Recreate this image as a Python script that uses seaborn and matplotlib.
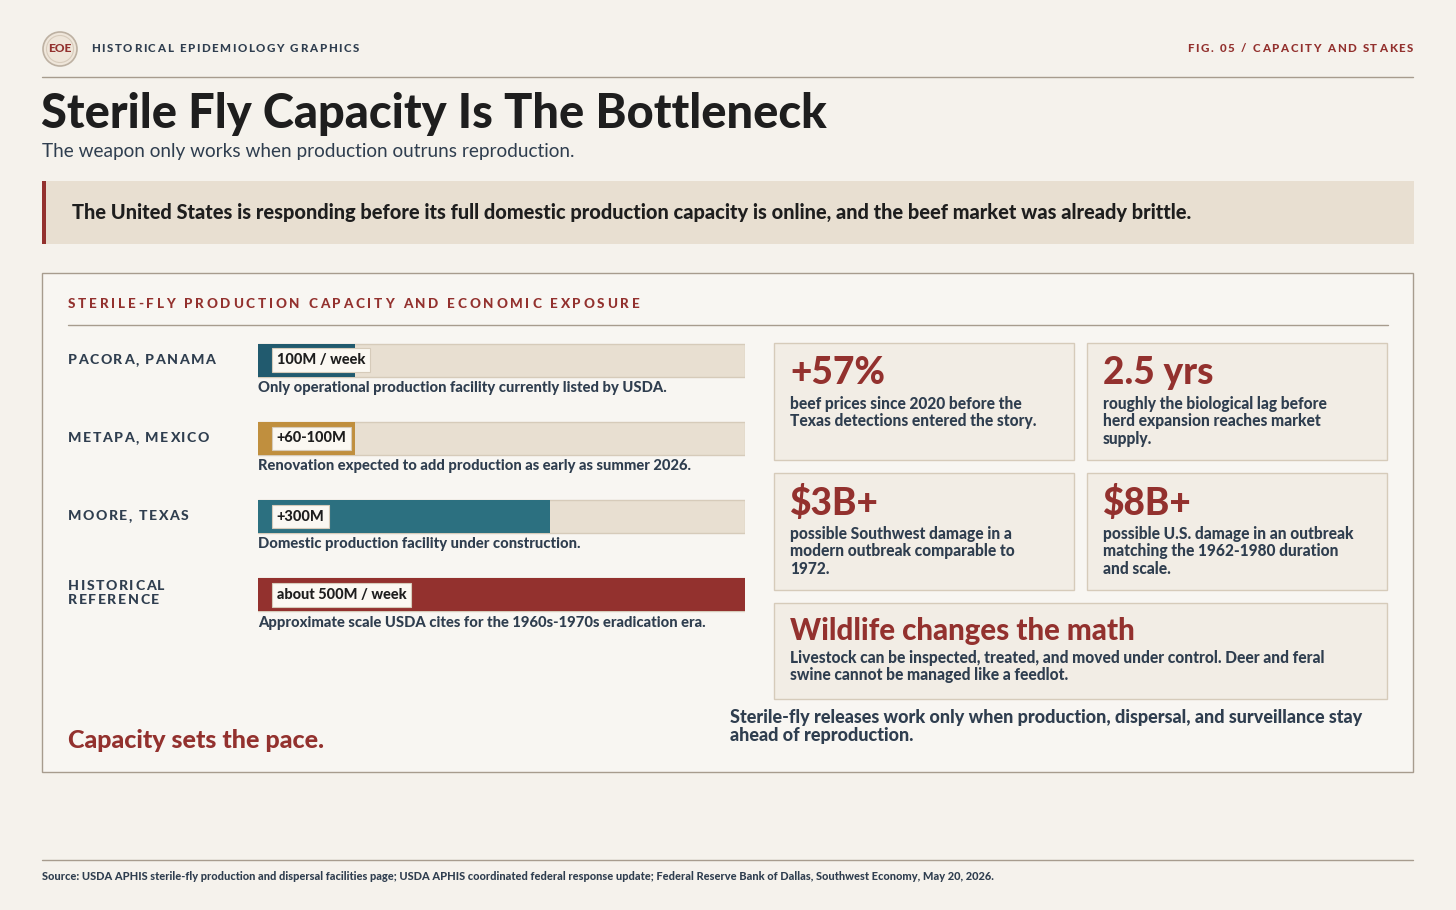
import matplotlib
matplotlib.use("Agg")
import matplotlib.pyplot as plt
from matplotlib.patches import Rectangle, Circle
import seaborn as sns
import pandas as pd

sites = ["PACORA, PANAMA", "METAPA, MEXICO", "MOORE, TEXAS", "HISTORICAL\nREFERENCE"]
capacity = [100, 100, 300, 500]  # million flies / week
badges = ["100M / week", "+60-100M", "+300M", "about 500M / week"]
notes = ["Only operational production facility currently listed by USDA.",
         "Renovation expected to add production as early as summer 2026.",
         "Domestic production facility under construction.",
         "Approximate scale USDA cites for the 1960s-1970s eradication era."]
scale_max = 500
bar_colors = ["#215A6E", "#C08F3E", "#2C7080", "#93312E"]

stat_values = ["+57%", "2.5 yrs", "$3B+", "$8B+"]
stat_texts = ["beef prices since 2020 before the\nTexas detections entered the story.",
              "roughly the biological lag before\nherd expansion reaches market\nsupply.",
              "possible Southwest damage in a\nmodern outbreak comparable to\n1972.",
              "possible U.S. damage in an outbreak\nmatching the 1962-1980 duration\nand scale."]

BG = "#F5F2EC"; NAVY = "#2F3E4F"; RED = "#93312E"; INK = "#1E1E1E"
sns.set_theme(style="white")
plt.rcParams['font.family'] = ['Lato', 'DejaVu Sans']

W, H = 1456, 910
fig = plt.figure(figsize=(W/100, H/100), dpi=100, facecolor=BG)
ax0 = fig.add_axes([0, 0, 1, 1], zorder=0)
ax0.set_xlim(0, W); ax0.set_ylim(H, 0); ax0.axis("off")
renderer = fig.canvas.get_renderer()

def T(x, y, s, size, color=NAVY, weight="black", **kw):
    return ax0.text(x, y, s, fontsize=size*0.72, color=color, fontweight=weight, **kw)

def S(x, y, s, size, spacing, color=NAVY, ha="left"):
    # letter-spaced caps, drawn char by char
    widths = []
    for ch in s:
        t = T(0, 0, ch if ch != " " else "i", size, color, va="center")
        bb = t.get_window_extent(renderer)
        widths.append(bb.width * (0.9 if ch == " " else 1.0))
        t.remove()
    total = sum(widths) + spacing * (len(s) - 1)
    cx = x - total if ha == "right" else x
    for ch, w in zip(s, widths):
        if ch != " ":
            T(cx, y, ch, size, color, va="center")
        cx += w + spacing

def R(x, y, w, h, fc, ec="none", lw=1, z=1):
    ax0.add_patch(Rectangle((x, y), w, h, facecolor=fc, edgecolor=ec, linewidth=lw, zorder=z))

# header
ax0.add_patch(Circle((60, 49), 17, facecolor="#EFE6DA", edgecolor="#BDB1A2", lw=1.2))
ax0.add_patch(Circle((60, 49), 13.5, facecolor="none", edgecolor="#D8CCBC", lw=0.8))
T(60, 49, "EOE", 12, RED, ha="center", va="center")
S(91, 49, "HISTORICAL EPIDEMIOLOGY GRAPHICS", 11.5, 1.6, NAVY)
S(1413, 49, "FIG. 05 / CAPACITY AND STAKES", 11.5, 1.7, RED, ha="right")
ax0.plot([42, 1413], [77, 77], color="#A79C8E", lw=1)
T(41, 114, "Sterile Fly Capacity Is The Bottleneck", 47, INK, va="center")
T(42, 152, "The weapon only works when production outruns reproduction.", 19, NAVY, weight="normal", va="center")

R(42, 181, 1372, 63, "#E8DFD1")
R(42, 181, 4, 63, RED, z=2)
T(72, 212, "The United States is responding before its full domestic production capacity is online, and the beef market was already brittle.", 20, INK, va="center")

# panel
R(42, 273, 1371, 499, "#F8F6F2", ec="#A79C8E", lw=1)
S(68, 304, "STERILE-FLY PRODUCTION CAPACITY AND ECONOMIC EXPOSURE", 13.5, 2.75, RED)
ax0.plot([68, 1388], [325, 325], color="#A79C8E", lw=1)

centers = [360, 438, 516, 595]
for i, (s, n) in enumerate(zip(sites, notes)):
    lines = s.split("\n")
    for j, ln in enumerate(lines):
        yy = centers[i] + (j - (len(lines) - 1) / 2) * 15 - (2 if len(lines) > 1 else 0)
        S(68, yy, ln, 14, 1.5, NAVY)
    T(258, centers[i] + 28, n, 14.7, NAVY, va="center")

# bars (seaborn)
df = pd.DataFrame({"site": sites, "cap": capacity, "track": [scale_max]*4})
top, bot = 321, 634
axb = fig.add_axes([258/W, 1 - bot/H, 487/W, (bot-top)/H], zorder=2)
axb.patch.set_alpha(0)
sns.barplot(data=df, y="site", x="track", color="#E8DFD1", width=0.42, ax=axb,
            edgecolor="#D6CBBA", linewidth=1, saturation=1)
sns.barplot(data=df, y="site", x="cap", hue="site", palette=bar_colors, width=0.42,
            ax=axb, legend=False, linewidth=0, saturation=1)
axb.set_xlim(0, scale_max); axb.set_ylim(3.5, -0.5)
axb.axis("off")
for i, b in enumerate(badges):
    axb.text(scale_max*0.02 + 9, i, b, fontsize=14.5*0.72, fontweight="black", color=INK, va="center",
             bbox=dict(boxstyle="square,pad=0.32", fc="#FBF8F2", ec="#D6CBBA", lw=0.8))

# stat cards
cards = [(774, 343), (1087, 343), (774, 473), (1087, 473)]
for (x, y), v, t in zip(cards, stat_values, stat_texts):
    R(x, y, 300, 117, "#F2EDE5", ec="#D6CBBA", lw=1)
    T(x + 16, y + 30, v, 37, RED, va="center")
    T(x + 16, y + 53, t, 15.5, NAVY, va="top", linespacing=1.1)
R(774, 603, 613, 96, "#F2EDE5", ec="#D6CBBA", lw=1)
T(790, 631, "Wildlife changes the math", 29.5, RED, va="center")
T(790, 650, "Livestock can be inspected, treated, and moved under control. Deer and feral\nswine cannot be managed like a feedlot.", 15.5, NAVY, va="top", linespacing=1.1)

T(68, 740, "Capacity sets the pace.", 25, RED, va="center")
T(730, 709, "Sterile-fly releases work only when production, dispersal, and surveillance stay\nahead of reproduction.", 18, NAVY, va="top", linespacing=1.05)

ax0.plot([42, 1413], [860, 860], color="#A79C8E", lw=1)
T(42, 877, "Source: USDA APHIS sterile-fly production and dispersal facilities page; USDA APHIS coordinated federal response update; Federal Reserve Bank of Dallas, Southwest Economy, May 20, 2026.", 11, NAVY, va="center")

fig.savefig("out.png", dpi=100, facecolor=BG)
